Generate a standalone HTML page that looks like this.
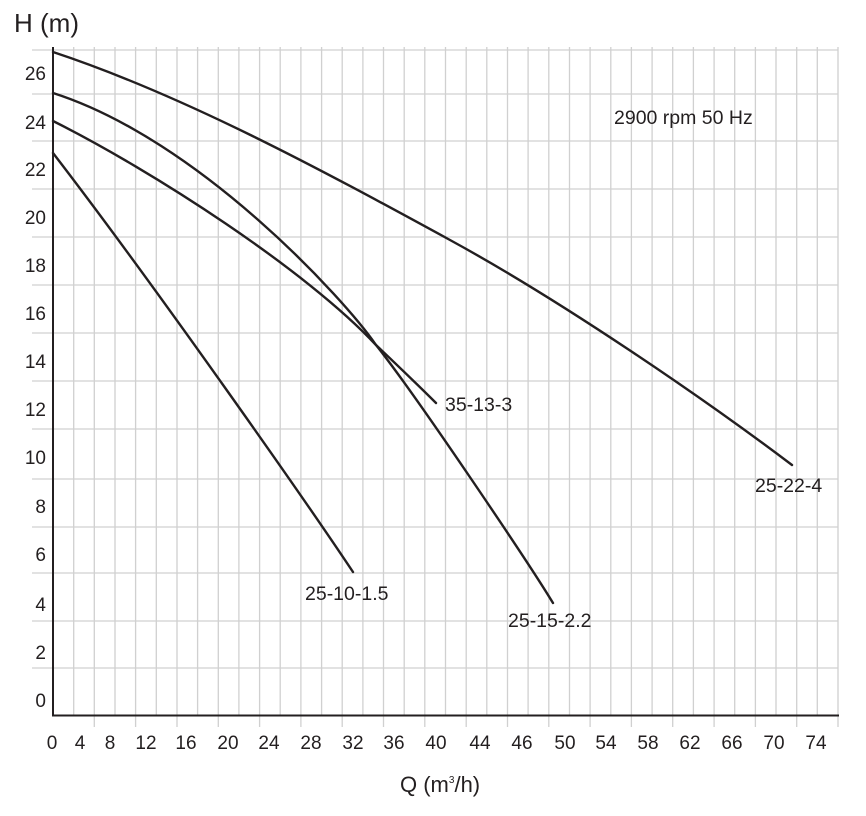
<!DOCTYPE html>
<html><head><meta charset="utf-8"><style>body{margin:0;background:#fff}svg{display:block}text{font-family:"Liberation Sans",Arial,sans-serif;fill:#231f20}</style></head>
<body>
<svg width="866" height="816" viewBox="0 0 866 816" xmlns="http://www.w3.org/2000/svg">
<g stroke="#d0d0d0" stroke-width="1.3">
<line x1="32" y1="50" x2="838" y2="50"/>
<line x1="32" y1="94" x2="838" y2="94"/>
<line x1="32" y1="141" x2="838" y2="141"/>
<line x1="32" y1="189" x2="838" y2="189"/>
<line x1="32" y1="237" x2="838" y2="237"/>
<line x1="32" y1="285" x2="838" y2="285"/>
<line x1="32" y1="333" x2="838" y2="333"/>
<line x1="32" y1="381" x2="838" y2="381"/>
<line x1="32" y1="429" x2="838" y2="429"/>
<line x1="32" y1="479" x2="838" y2="479"/>
<line x1="32" y1="527" x2="838" y2="527"/>
<line x1="32" y1="573" x2="838" y2="573"/>
<line x1="32" y1="621" x2="838" y2="621"/>
<line x1="32" y1="668" x2="838" y2="668"/>
</g>
<path fill="none" stroke="#d0d0d0" stroke-width="1.3" d="M73.7,47V715 M94.3,47V727 M115,47V715 M135.6,47V727 M156.3,47V715 M177,47V727 M197.6,47V715 M218.3,47V727 M238.9,47V715 M259.6,47V727 M280.2,47V715 M300.9,47V727 M321.6,47V715 M342.2,47V727 M362.9,47V715 M383.5,47V727 M404.2,47V715 M424.8,47V727 M445.5,47V715 M466.2,47V727 M486.8,47V715 M507.5,47V727 M528.1,47V715 M548.8,47V727 M569.5,47V715 M590.1,47V727 M610.8,47V715 M631.4,47V727 M652.1,47V715 M672.7,47V727 M693.4,47V715 M714.1,47V727 M734.7,47V715 M755.4,47V727 M776,47V715 M796.7,47V727 M817.3,47V715 M838,47V727"/>
<line x1="53" y1="47" x2="53" y2="716" stroke="#231f20" stroke-width="2"/>
<line x1="52" y1="715.5" x2="839" y2="715.5" stroke="#231f20" stroke-width="2"/>
<g fill="none" stroke="#231f20" stroke-width="2.4" stroke-linecap="round" stroke-linejoin="round">
<path d="M53,52 C183,95 320,169 450,240 C560,300 702,397 792,465"/>
<path d="M53,93 C200,140 346,301 376,345 C416,395 530,565 553,603"/>
<path d="M53,121 C153,171 306,270 376,345 C396,364 416,383 436,403"/>
<path d="M53,153 C153,283 303,497 353,572"/>
</g>
<g font-size="19.5">
<text x="445" y="411">35-13-3</text>
<text x="305" y="600">25-10-1.5</text>
<text x="508" y="627">25-15-2.2</text>
<text x="755" y="492">25-22-4</text>
<text x="614" y="124">2900 rpm 50 Hz</text>
</g>
<text x="14" y="32" font-size="26">H (m)</text>
<text x="400" y="792" font-size="22">Q (m<tspan font-size="10" dy="-9">3</tspan><tspan dy="9">/h)</tspan></text>
<g font-size="19" text-anchor="end">
<text x="46" y="80">26</text><text x="46" y="129">24</text><text x="46" y="176">22</text>
<text x="46" y="224">20</text><text x="46" y="272">18</text><text x="46" y="320">16</text>
<text x="46" y="368">14</text><text x="46" y="416">12</text><text x="46" y="464">10</text>
<text x="46" y="513">8</text><text x="46" y="561">6</text><text x="46" y="611">4</text>
<text x="46" y="659">2</text><text x="46" y="707">0</text>
</g>
<g font-size="19" text-anchor="middle">
<text x="52" y="749">0</text><text x="80" y="749">4</text><text x="110" y="749">8</text>
<text x="146" y="749">12</text><text x="186" y="749">16</text><text x="228" y="749">20</text>
<text x="269" y="749">24</text><text x="311" y="749">28</text><text x="353" y="749">32</text>
<text x="394" y="749">36</text><text x="436" y="749">40</text><text x="480" y="749">44</text>
<text x="522" y="749">46</text><text x="565" y="749">50</text><text x="606" y="749">54</text>
<text x="648" y="749">58</text><text x="690" y="749">62</text><text x="732" y="749">66</text>
<text x="774" y="749">70</text><text x="816" y="749">74</text>
</g>
</svg>
</body></html>
